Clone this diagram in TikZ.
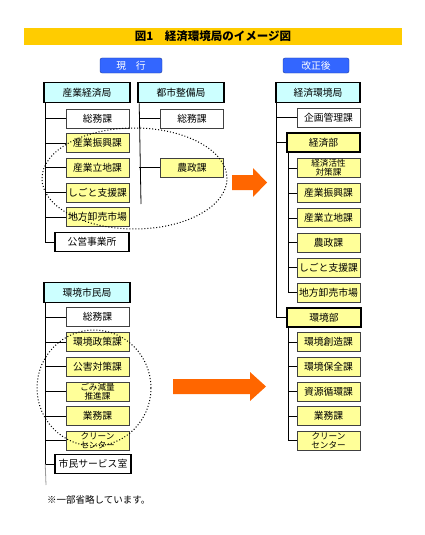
\documentclass[tikz,border=0pt]{standalone}
\usepackage{fontspec}
\setmainfont{Noto Sans CJK JP}
\definecolor{titlebar}{RGB}{255,204,0}
\definecolor{headcyan}{RGB}{204,255,255}
\definecolor{kayellow}{RGB}{255,255,153}
\definecolor{btnblue}{RGB}{51,102,255}
\definecolor{arroworange}{RGB}{255,102,0}
\begin{document}
\begin{tikzpicture}[x=1pt,y=-1pt,
  kyoku/.style={draw,line width=1.6pt,fill=headcyan,minimum width=86pt,minimum height=20pt,inner sep=0pt,font=\fontsize{9.8}{10}\selectfont},
  ka/.style={draw=black!75,line width=0.8pt,fill=white,minimum width=63pt,minimum height=19pt,inner sep=0pt,align=center,font=\fontsize{9.8}{10}\selectfont},
  kay/.style={ka,fill=kayellow},
  kasmall/.style={kay,font=\fontsize{8.6}{8.6}\selectfont},
  bu/.style={ka,draw=black,line width=1.6pt,minimum width=74pt},
  btn/.style={rounded corners=2pt,fill=btnblue,draw=btnblue!60!black,text=white,minimum width=62pt,minimum height=15pt,inner sep=0pt,font=\fontsize{9.8}{10}\selectfont},
  conn/.style={line width=0.8pt}]
\useasboundingbox (0,0) rectangle (425,535);

\node[fill=titlebar,minimum width=378pt,minimum height=17pt,inner sep=0pt,font=\fontsize{11.5}{12}\selectfont] (title) at (213,36.5) {\bfseries 図1\quad 経済環境局のイメージ図};
\node[btn] (now) at (131,65.5) {現　行};
\node[btn,minimum width=66pt] (after) at (316,65.5) {改正後};

% 現行（上）
\node[kyoku] (A0) at (87,92.5) {産業経済局};
\node[ka] (A1) at (97.5,118.5) {総務課};
\node[kay] (A2) at (97.5,143) {産業振興課};
\node[kay] (A3) at (97.5,167.5) {産業立地課};
\node[kay] (A4) at (97.5,192.5) {しごと支援課};
\node[kay] (A5) at (97.5,217) {地方卸売市場};
\node[bu] (A6) at (92,242) {公営事業所};
\coordinate (At) at ([xshift=2pt]A0.south west);
\path[draw,conn] (At) |- (A6.west);
\path[draw,conn] (A1.west -| At) -- (A1.west);
\path[draw,conn] (A2.west -| At) -- (A2.west);
\path[draw,conn] (A3.west -| At) -- (A3.west);
\path[draw,conn] (A4.west -| At) -- (A4.west);
\path[draw,conn] (A5.west -| At) -- (A5.west);

\node[kyoku] (B0) at (181,92.5) {都市整備局};
\node[ka] (B1) at (192,118.5) {総務課};
\node[kay] (B2) at (192,167.5) {農政課};
\coordinate (Bt) at ([xshift=2pt]B0.south west);
\coordinate (Bend) at (141,204);
\path[draw,conn] (Bt) -- (Bend);
\path[draw,conn] (B1.west -| Bt) -- (B1.west);
\path[draw,conn] (B2.west -| Bt) -- (B2.west);

\draw[dotted,line width=1pt] (134.5,178.5) ellipse [x radius=92.5pt,y radius=50.5pt];

% 現行（下）
\node[kyoku] (D0) at (87,292.5) {環境市民局};
\node[ka] (D1) at (97.5,317) {総務課};
\node[kay] (D2) at (97.5,342) {環境政策課};
\node[kay] (D3) at (97.5,366.5) {公害対策課};
\node[kasmall] (D4) at (97.5,391.5) {ごみ減量\\推進課};
\node[kay] (D5) at (97.5,416) {業務課};
\node[kasmall] (D6) at (97.5,440.5) {クリーン\\センター};
\node[bu,minimum width=76pt] (D7) at (93,464) {市民サービス室};
\coordinate (Dt) at ([xshift=2pt]D0.south west);
\coordinate (Dend) at (46,485);
\path[draw,conn] (Dt) |- (D7.west);
\path[draw,conn,black!40] (D7.west -| Dt) -- (Dend);
\path[draw,conn] (D1.west -| Dt) -- (D1.west);
\path[draw,conn] (D2.west -| Dt) -- (D2.west);
\path[draw,conn] (D3.west -| Dt) -- (D3.west);
\path[draw,conn] (D4.west -| Dt) -- (D4.west);
\path[draw,conn] (D5.west -| Dt) -- (D5.west);
\path[draw,conn] (D6.west -| Dt) -- (D6.west);

\draw[dotted,line width=1pt] (94,388) ellipse [x radius=57pt,y radius=58pt];

% 矢印
\fill[arroworange] (232,175) -- (253,175) -- (253,168) -- (267,182.5) -- (253,197) -- (253,190) -- (232,190) -- cycle;
\fill[arroworange] (173,379) -- (250,379) -- (250,372) -- (266,386.5) -- (250,401) -- (250,394) -- (173,394) -- cycle;

% 改正後
\node[kyoku,minimum width=84pt] (C0) at (318,92.5) {経済環境局};
\node[ka] (C1) at (328.5,117.5) {企画管理課};
\node[bu,fill=kayellow,minimum width=73pt] (C2) at (323.5,142.5) {経済部};
\node[kasmall] (C3) at (328.5,168) {経済活性\\対策課};
\node[kay] (C4) at (328.5,193) {産業振興課};
\node[kay] (C5) at (328.5,218) {産業立地課};
\node[kay] (C6) at (328.5,242.5) {農政課};
\node[kay] (C7) at (328.5,267.5) {しごと支援課};
\node[kay] (C8) at (328.5,292.5) {地方卸売市場};
\node[bu,fill=kayellow] (C9) at (324,317.5) {環境部};
\node[kay] (C10) at (328.5,342) {環境創造課};
\node[kay] (C11) at (328.5,366.5) {環境保全課};
\node[kay] (C12) at (328.5,391.5) {資源循環課};
\node[kay] (C13) at (328.5,416) {業務課};
\node[kasmall] (C14) at (328.5,440.5) {クリーン\\センター};
\coordinate (Ct) at ([xshift=1.5pt]C0.south west);
\path[draw,conn] (Ct) |- (C9.west);
\path[draw,conn] (C1.west -| Ct) -- (C1.west);
\path[draw,conn] (C2.west -| Ct) -- (C2.west);
\coordinate (Kt) at ([xshift=2pt]C2.south west);
\path[draw,conn] (Kt) |- (C8.west);
\path[draw,conn] (C3.west -| Kt) -- (C3.west);
\path[draw,conn] (C4.west -| Kt) -- (C4.west);
\path[draw,conn] (C5.west -| Kt) -- (C5.west);
\path[draw,conn] (C6.west -| Kt) -- (C6.west);
\path[draw,conn] (C7.west -| Kt) -- (C7.west);
\coordinate (Et) at ([xshift=2pt]C9.south west);
\path[draw,conn] (Et) |- (C14.west);
\path[draw,conn] (C10.west -| Et) -- (C10.west);
\path[draw,conn] (C11.west -| Et) -- (C11.west);
\path[draw,conn] (C12.west -| Et) -- (C12.west);
\path[draw,conn] (C13.west -| Et) -- (C13.west);

\node[anchor=west,inner sep=0pt,font=\fontsize{9.5}{10}\selectfont] (note) at (47,500) {※一部省略しています。};
\end{tikzpicture}
\end{document}
